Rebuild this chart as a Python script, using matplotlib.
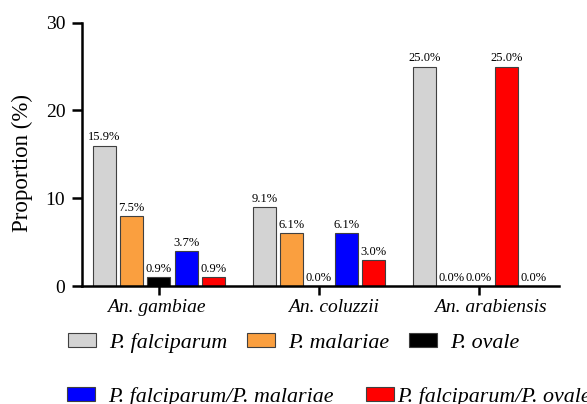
import matplotlib.pyplot as plt
import numpy as np
from matplotlib.patches import Patch
from matplotlib.transforms import ScaledTranslation

plt.rcParams['font.family'] = ['Liberation Serif', 'DejaVu Serif']

species = ["An. gambiae", "An. coluzzii", "An. arabiensis"]
series = ["P. falciparum", "P. malariae", "P. ovale",
          "P. falciparum/P. malariae", "P. falciparum/P. ovale"]

# bar heights as drawn, one list per series (gambiae, coluzzii, arabiensis)
falciparum = [16, 9, 25]
malariae = [8, 6, 0]
ovale = [1, 0, 0]
falc_mal = [4, 6, 25]
falc_ova = [1, 3, 0]

# labels printed above the bars
lab_falciparum = ["15.9%", "9.1%", "25.0%"]
lab_malariae = ["7.5%", "6.1%", "0.0%"]
lab_ovale = ["0.9%", "0.0%", "0.0%"]
lab_falc_mal = ["3.7%", "6.1%", "25.0%"]
lab_falc_ova = ["0.9%", "3.0%", "0.0%"]

colors = ["#D3D3D3", "#FA9F3F", "black", "blue", "red"]
# the arabiensis bar in the 4th slot is drawn red in the original
bar_colors = [["#D3D3D3"] * 3, ["#FA9F3F"] * 3, ["black"] * 3,
              ["blue", "blue", "red"], ["red"] * 3]

values = [falciparum, malariae, ovale, falc_mal, falc_ova]
labels = [lab_falciparum, lab_malariae, lab_ovale, lab_falc_mal, lab_falc_ova]

fig = plt.figure(figsize=(5.87, 4.04), dpi=100)
ax = fig.add_axes([0.1397, 0.292, 0.8125, 0.652])

x = np.arange(len(species))
step = 0.171
width = 0.144

for i in range(5):
    pos = x + (i - 2) * step
    bars = ax.bar(pos, values[i], width, color=bar_colors[i],
                  edgecolor="#404040", linewidth=0.8, zorder=2)
    for b, txt in zip(bars, labels[i]):
        ax.annotate(txt, (b.get_x() + b.get_width() / 2, b.get_height()),
                    xytext=(0, 1.5), textcoords="offset points",
                    ha="center", va="bottom", fontsize=9)

ax.set_xlim(-0.481, 2.5)
ax.set_ylim(0, 30)
ax.set_yticks([0, 10, 20, 30])
ax.set_xticks(x)
ax.set_xticklabels(species, fontsize=14, style="italic")
ax.tick_params(axis="y", labelsize=14, length=7, width=1.8, pad=5)
ax.tick_params(axis="x", length=6.5, width=1.8, pad=3)

# shift category labels like in the original
shifts = [-3, 15, 11]
for lab, dx in zip(ax.get_xticklabels(), shifts):
    lab.set_transform(lab.get_transform() + ScaledTranslation(dx / 100, 0, fig.dpi_scale_trans))

for s in ["top", "right"]:
    ax.spines[s].set_visible(False)
ax.spines["left"].set_linewidth(1.8)
ax.spines["bottom"].set_linewidth(1.8)

ax.set_ylabel("Proportion (%)", fontsize=16.5)
ax.yaxis.set_label_coords(-0.103, 0.467)

handles = [Patch(facecolor=c, edgecolor="#404040", linewidth=0.8) for c in colors]
leg_kw = dict(loc="center left", frameon=False, borderpad=0, borderaxespad=0,
              prop={"style": "italic", "size": 15.8},
              handlelength=1.28, handleheight=0.58)

fig.legend(handles[:3], series[:3], bbox_to_anchor=(0.1158, 0.151), ncol=3,
           handletextpad=0.6, columnspacing=0.9, **leg_kw)
fig.legend(handles[3:4], series[3:4], bbox_to_anchor=(0.1136, 0.0173),
           handletextpad=0.6, **leg_kw)
fig.legend(handles[4:], series[4:], bbox_to_anchor=(0.6235, 0.0173),
           handletextpad=0.12, **leg_kw)

fig.savefig("out.png", dpi=100)
